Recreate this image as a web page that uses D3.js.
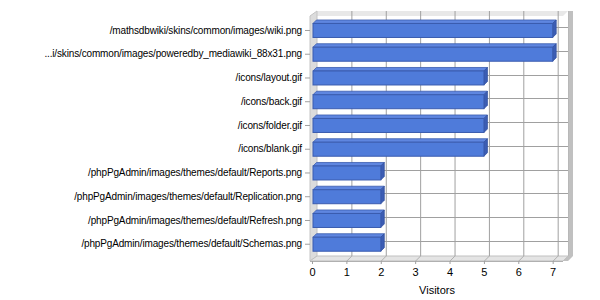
<!DOCTYPE html>
<html><head><meta charset="utf-8">
<script src="https://cdn.jsdelivr.net/npm/d3@7"></script>
<style>body{margin:0;background:#fff}svg{display:block}text{font-family:"Liberation Sans",Arial,sans-serif;font-size:11px;fill:#000}</style>
</head><body><svg id="c" width="600" height="300"></svg>
<script>
const categories = [
  "/mathsdbwiki/skins/common/images/wiki.png",
  "...i/skins/common/images/poweredby_mediawiki_88x31.png",
  "/icons/layout.gif",
  "/icons/back.gif",
  "/icons/folder.gif",
  "/icons/blank.gif",
  "/phpPgAdmin/images/themes/default/Reports.png",
  "/phpPgAdmin/images/themes/default/Replication.png",
  "/phpPgAdmin/images/themes/default/Refresh.png",
  "/phpPgAdmin/images/themes/default/Schemas.png"
];
const visitors = [7, 7, 5, 5, 5, 5, 2, 2, 2, 2];
const xTicks = [0, 1, 2, 3, 4, 5, 6, 7];
const xTitle = "Visitors";

const svg = d3.select("#c");
const D = 5; // wall depth
const front = {l: 312, r: 563, t: 16, b: 261};
const x = d3.scaleLinear().domain([0, 7.3]).range([front.l, front.r]);
const y = d3.scaleBand().domain(categories).range([18.6, 256.1]);
const cy = c => y(c) + y.bandwidth() / 2;

const g = svg.append("g");
// back wall
g.append("rect").attr("x", front.l + D).attr("y", front.t - D)
  .attr("width", front.r - front.l).attr("height", front.b - front.t).attr("fill", "#fff");
// top edge strip
g.append("path").attr("d", `M${front.l},${front.t}L${front.l + D},${front.t - D}L${front.r + D},${front.t - D}L${front.r},${front.t}Z`)
  .attr("fill", "#e8e8e8");
// left wall
g.append("path").attr("d", `M${front.l - 2},${front.t}L${front.l + D},${front.t - D}L${front.l + D},${front.b - D}L${front.l - 2},${front.b}Z`)
  .attr("fill", "#dcdcdc").attr("stroke", "#c4c4c4").attr("stroke-width", 1);
// right wall
g.append("path").attr("d", `M${front.r + D},${front.t - D}L${front.r + D + 5},${front.t - D}L${front.r + D + 5},${front.b - D}L${front.r + 5},${front.b}L${front.r},${front.b}L${front.r + D},${front.b - D}Z`)
  .attr("fill", "#c0c0c0");
// floor
g.append("path").attr("d", `M${front.l - 2},${front.b}L${front.l + D},${front.b - D}L${front.r + D},${front.b - D}L${front.r},${front.b}Z`)
  .attr("fill", "#e4e4e4").attr("stroke", "#c0c0c0");

// vertical gridlines on back wall
g.selectAll(".vg").data(xTicks.slice(1)).join("line")
  .attr("x1", d => x(d) + D + 0.5).attr("x2", d => x(d) + D + 0.5)
  .attr("y1", front.t - D).attr("y2", front.b - D).attr("stroke", "#a0a0a0");
// floor gridlines
g.selectAll(".fg").data(xTicks.slice(1)).join("line")
  .attr("x1", d => x(d) + 0.5).attr("x2", d => x(d) + D + 0.5)
  .attr("y1", front.b).attr("y2", front.b - D).attr("stroke", "#b0b0b0");
// horizontal gridlines on back wall
g.selectAll(".hg").data(categories).join("line")
  .attr("x1", front.l + D).attr("x2", front.r + D)
  .attr("y1", d => Math.round(cy(d) - 3.4) + 0.5).attr("y2", d => Math.round(cy(d) - 3.4) + 0.5)
  .attr("stroke", "#a0a0a0");
// right edge of back wall
g.append("line").attr("x1", front.r + D + 0.5).attr("x2", front.r + D + 0.5)
  .attr("y1", front.t - D).attr("y2", front.b - D).attr("stroke", "#b8b8b8");

// bars
const bh = 14, bd = 3.5;
const bars = g.selectAll(".bar").data(categories).join("g");
bars.append("path").attr("d", (c, i) => {
  const x0 = x(0) + 1, x1 = x(visitors[i]), t = cy(c) - bh / 2;
  return `M${x0},${t}L${x0 + bd},${t - bd}L${x1 + bd},${t - bd}L${x1},${t}Z`;
}).attr("fill", "#5f86e0").attr("stroke", "#3a5caf").attr("stroke-width", 0.8);
bars.append("path").attr("d", (c, i) => {
  const x1 = x(visitors[i]), t = cy(c) - bh / 2;
  return `M${x1},${t}L${x1 + bd},${t - bd}L${x1 + bd},${t + bh - bd}L${x1},${t + bh}Z`;
}).attr("fill", "#3c5db4").attr("stroke", "#34529f").attr("stroke-width", 0.8);
bars.append("rect")
  .attr("x", x(0) + 1).attr("y", c => cy(c) - bh / 2)
  .attr("width", (c, i) => x(visitors[i]) - x(0) - 1).attr("height", bh)
  .attr("fill", "#4f7bda").attr("stroke", "#3a5caf").attr("stroke-width", 1);

// x axis
const xa = svg.append("g").attr("transform", `translate(0,${front.b})`)
  .call(d3.axisBottom(x).tickValues(xTicks).tickSize(3).tickPadding(4).tickFormat(d3.format("d")));
xa.select(".domain").attr("stroke", "#b0b0b0").attr("d", `M${front.l - 2},0.5H${front.r}`);
xa.selectAll(".tick line").attr("stroke", "#a0a0a0");
xa.selectAll("text").style("font-size", "11px").attr("fill", "#000");

// y axis
const ya = svg.append("g").attr("transform", `translate(${front.l - 2},0)`)
  .call(d3.axisLeft(y).tickSize(5).tickPadding(3));
ya.select(".domain").remove();
ya.selectAll(".tick line").attr("stroke", "#a0a0a0");
ya.selectAll("text").style("font-size", "10px").style("letter-spacing", "-0.15px").attr("fill", "#000");

svg.append("text").attr("x", 437).attr("y", 294).attr("text-anchor", "middle").text(xTitle);
</script></body></html>
